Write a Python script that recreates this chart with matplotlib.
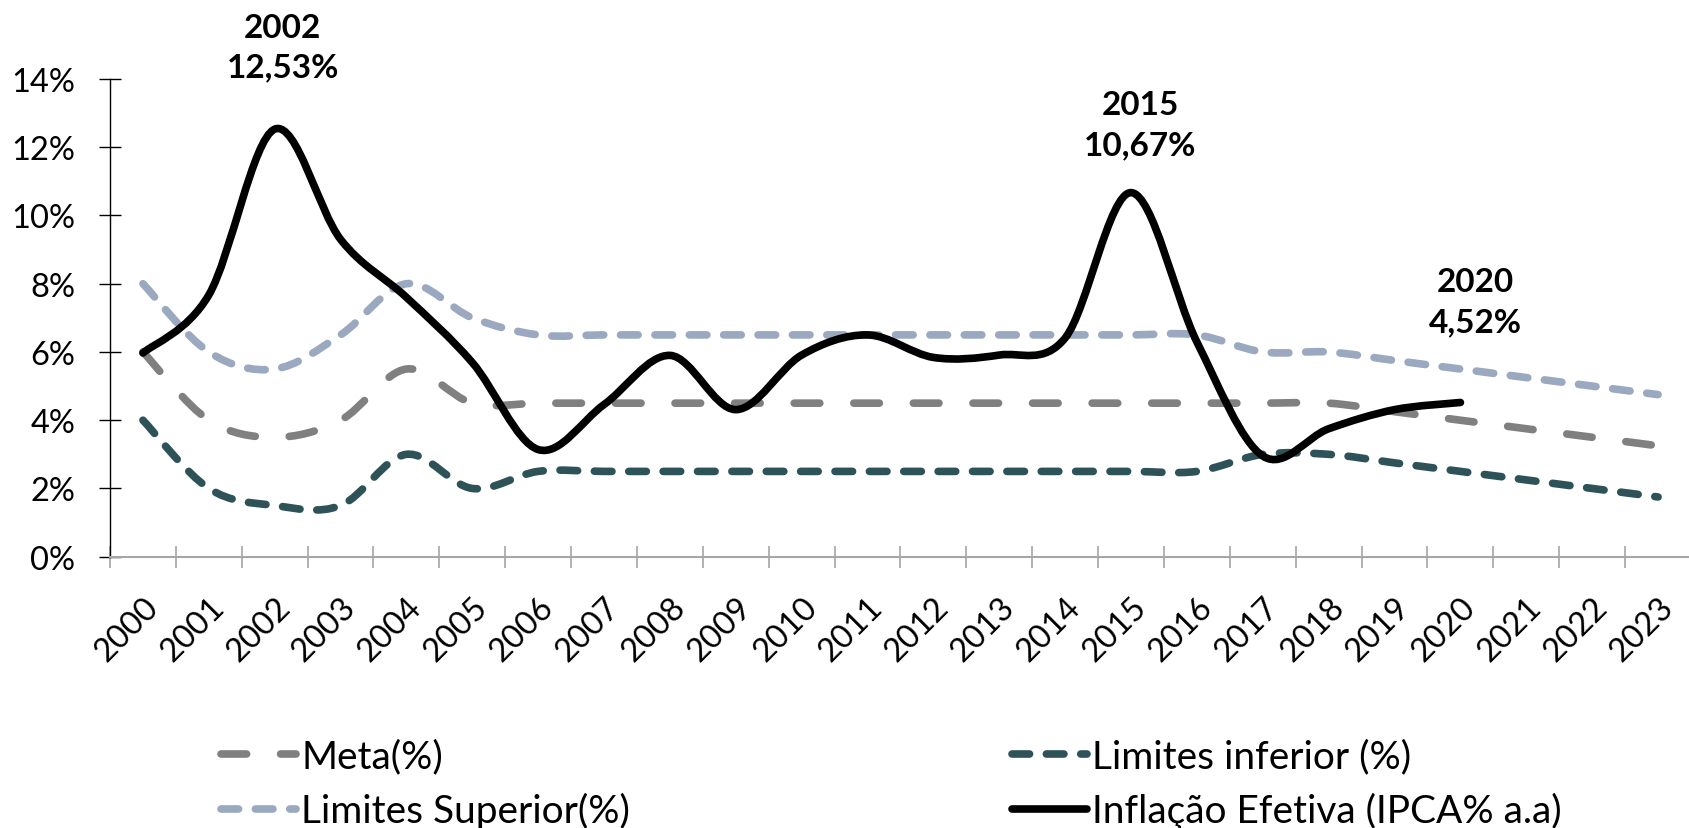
import matplotlib
matplotlib.use('Agg')
import matplotlib.pyplot as plt
import numpy as np
from matplotlib.path import Path
from matplotlib.patches import PathPatch
from matplotlib.lines import Line2D

plt.rcParams['font.family'] = ['Lato', 'DejaVu Sans']

# Data
anos = [str(a) for a in range(2000, 2024)]
meta = [6.0, 4.0, 3.5, 4.0, 5.5, 4.5, 4.5, 4.5, 4.5, 4.5, 4.5, 4.5,
        4.5, 4.5, 4.5, 4.5, 4.5, 4.5, 4.5, 4.25, 4.0, 3.75, 3.5, 3.25]
lim_inferior = [4.0, 2.0, 1.5, 1.5, 3.0, 2.0, 2.5, 2.5, 2.5, 2.5, 2.5, 2.5,
                2.5, 2.5, 2.5, 2.5, 2.5, 3.0, 3.0, 2.75, 2.5, 2.25, 2.0, 1.75]
lim_superior = [8.0, 6.0, 5.5, 6.5, 8.0, 7.0, 6.5, 6.5, 6.5, 6.5, 6.5, 6.5,
                6.5, 6.5, 6.5, 6.5, 6.5, 6.0, 6.0, 5.75, 5.5, 5.25, 5.0, 4.75]
ipca = [5.97, 7.67, 12.53, 9.30, 7.60, 5.69, 3.14, 4.46, 5.90, 4.31, 5.91,
        6.50, 5.84, 5.91, 6.41, 10.67, 6.29, 2.95, 3.75, 4.31, 4.52]

# labels above the peaks: (year index, x offset px, y offset px)
destaques = [(2, 8, 82), (15, 9, 68), (20, 15, 101)]

c_meta = '#808080'
c_inf = '#2d5258'
c_sup = '#9aa9bf'
c_ipca = '#000000'
lw = 5.5
fs = 23.5
fs_leg = 28


def smooth_path(y):
    # Excel-like smoothed line: cubic bezier through the points
    x = np.arange(len(y), dtype=float)
    p = np.column_stack([x, np.asarray(y, dtype=float)])
    n = len(p)
    verts = [p[0]]
    codes = [Path.MOVETO]
    for i in range(n - 1):
        p0 = p[max(i - 1, 0)]
        p1 = p[i]
        p2 = p[i + 1]
        p3 = p[min(i + 2, n - 1)]
        c1 = p1 + (p2 - p0) / 6.0
        c2 = p2 - (p3 - p1) / 6.0
        verts += [c1, c2, p2]
        codes += [Path.CURVE4] * 3
    return Path(verts, codes)


fig = plt.figure(figsize=(16.89, 8.29), dpi=100)
ax = fig.add_axes([110 / 1689, 271.3 / 829, 1581 / 1689, 477.7 / 829])

series = [
    (meta, c_meta, (0, (3.35, 4.45))),
    (lim_superior, c_sup, (0, (2.3, 2.2))),
    (lim_inferior, c_inf, (0, (2.3, 2.2))),
    (ipca, c_ipca, 'solid'),
]
for vals, cor, ls in series:
    patch = PathPatch(smooth_path(vals), fill=False, edgecolor=cor, lw=lw,
                      linestyle=ls, capstyle='round', joinstyle='round')
    ax.add_patch(patch)

ax.set_xlim(-0.5, len(anos) - 0.5)
ax.set_ylim(0, 14)

ax.set_yticks(np.arange(0, 15, 2))
ax.set_yticklabels([f'{v}%' for v in range(0, 15, 2)], fontsize=fs)
ax.tick_params(axis='y', direction='inout', length=16, width=1.0,
               color='black', pad=17)

ax.set_xticks(np.arange(len(anos)))
ax.set_xticklabels(anos, rotation=45, ha='right', va='top',
                   rotation_mode='anchor', fontsize=fs)
ax.set_xticks(np.arange(len(anos) + 1) - 0.5, minor=True)
ax.tick_params(axis='x', which='major', length=0, pad=25)
ax.tick_params(axis='x', which='minor', direction='inout', length=16.5,
               width=1.2, color='#a6a6a6')

for s in ['top', 'right']:
    ax.spines[s].set_visible(False)
ax.spines['left'].set_color('black')
ax.spines['left'].set_linewidth(1.0)
ax.spines['bottom'].set_color('#a6a6a6')
ax.spines['bottom'].set_linewidth(1.5)

for i, dx, dy in destaques:
    ax.annotate(f'{anos[i]}\n{ipca[i]:.2f}%'.replace('.', ','),
                xy=(i, ipca[i]), xytext=(dx * 0.72, dy * 0.72),
                textcoords='offset points', ha='center', va='center',
                fontsize=24, fontweight='bold', linespacing=1.45,
                annotation_clip=False)

# legend
h_meta = Line2D([], [], color=c_meta, lw=lw, linestyle=(0, (3.35, 4.45)),
                dash_capstyle='round')
h_sup = Line2D([], [], color=c_sup, lw=lw, linestyle=(0, (2.3, 2.2)),
               dash_capstyle='round')
h_inf = Line2D([], [], color=c_inf, lw=lw, linestyle=(0, (2.3, 2.2)),
               dash_capstyle='round')
h_ipca = Line2D([], [], color=c_ipca, lw=lw, solid_capstyle='round')

kw = dict(loc='center left', frameon=False, fontsize=fs_leg,
          handlelength=1.93, handletextpad=0.13, labelspacing=0.45,
          borderpad=0, borderaxespad=0)
leg1 = fig.legend([h_meta, h_sup], ['Meta(%)', 'Limites Superior(%)'],
                  bbox_to_anchor=(221 / 1689, 1 - 785 / 829), **kw)
leg2 = fig.legend([h_inf, h_ipca], ['Limites inferior (%)',
                                    'Inflação Efetiva (IPCA% a.a)'],
                  bbox_to_anchor=(1012 / 1689, 1 - 785 / 829), **kw)

fig.savefig('out.png', dpi=100)
